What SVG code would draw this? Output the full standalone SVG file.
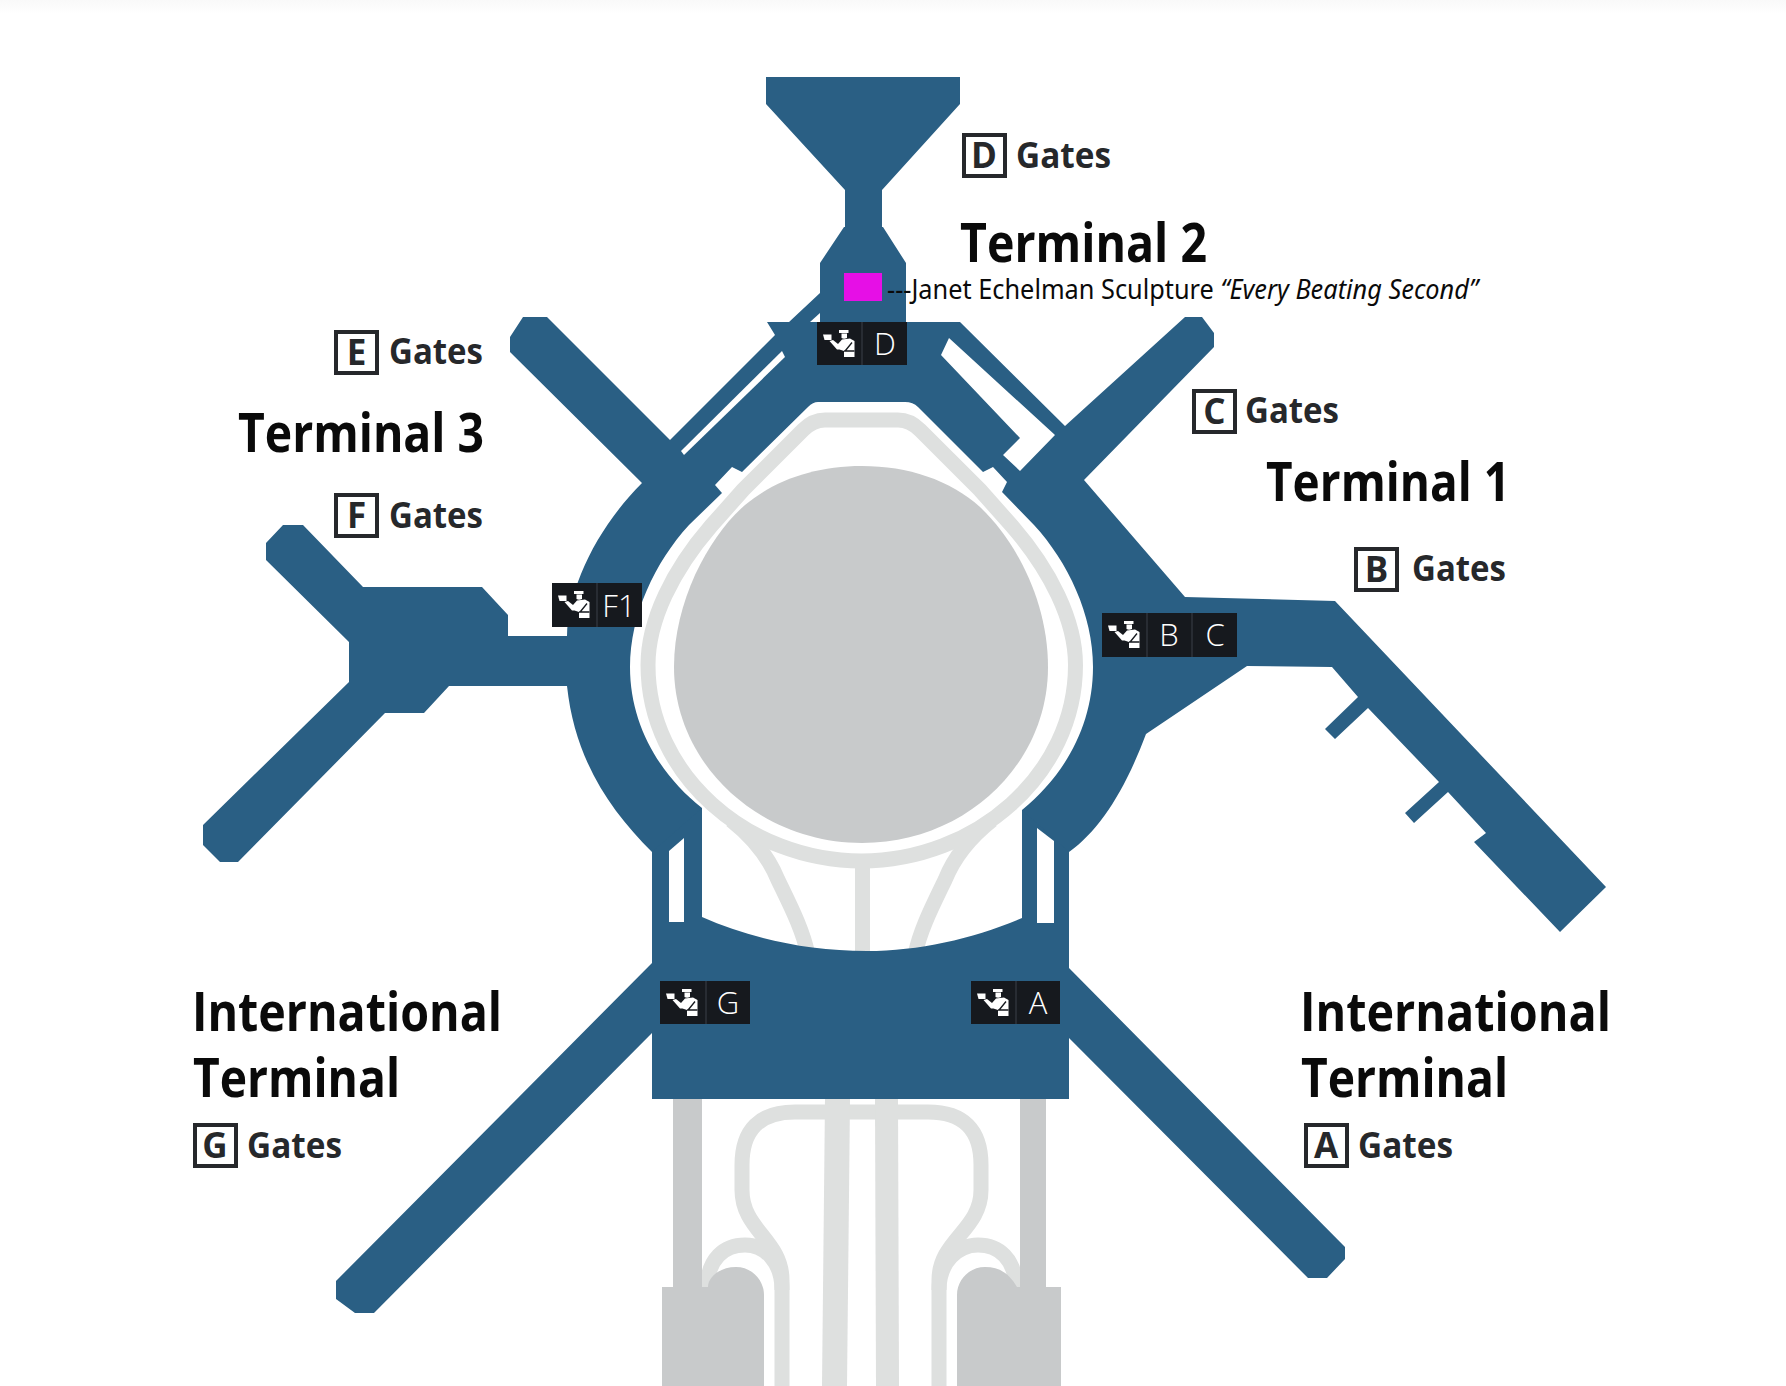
<svg xmlns="http://www.w3.org/2000/svg" xmlns:xlink="http://www.w3.org/1999/xlink" width="1786" height="1386" viewBox="0 0 1786 1386">
<style>
.blue{fill:#2a5f84}
.hole{fill:#fff}
.lg{fill:none;stroke:#dee0df;stroke-width:15}
.lgf{fill:#dee0df}
.dg{fill:#c8cacb}
.tag{fill:#16191e}
.div{stroke:#3a4148;stroke-width:1}
.tagt{font-family:"Open Sans","Noto Sans",sans-serif;font-weight:300;font-size:31px;fill:#fff;text-anchor:middle}
.term{font-family:"Open Sans","Noto Sans",sans-serif;font-weight:700;font-size:54px;fill:#0a0a0a}
.gates{font-family:"Open Sans","Noto Sans",sans-serif;font-weight:700;font-size:35px;fill:#26282b}
.box{fill:#fff;stroke:#26282b;stroke-width:4}
.boxt{font-family:"Open Sans","Noto Sans",sans-serif;font-weight:700;font-size:35px;fill:#26282b;text-anchor:middle}
.note{font-family:"Noto Sans","Open Sans",sans-serif;font-size:27px;fill:#0a0a0a}
</style>
<defs>
<linearGradient id="topfade" x1="0" y1="0" x2="0" y2="1"><stop offset="0" stop-color="#f9f9f9"/><stop offset="1" stop-color="#ffffff"/></linearGradient>
<g id="officer">
<path fill="#fff" d="M18,5H27.500V8H18Z"/>
<path fill="#fff" d="M20.500,8.500H26V13Q23,14.500 20.500,13Z"/>
<path fill="#fff" d="M2,9.500H10.500V15H3.500Z"/>
<path fill="#fff" d="M21,14.500L29,13.500L33.500,16V32H23V26L18.500,24.500H16L8.500,16L12,15L17,19Z"/>
<path fill="none" stroke="#16191e" stroke-width="1.300" d="M31,17.500L24.500,25.500M23,26H33.500"/>
</g>
</defs>
<rect width="1786" height="1386" fill="#fff"/>
<rect width="1786" height="14" fill="url(#topfade)"/>

<g id="airfield-structure">
<path class="blue" d="M766,77L960,77L960,104L882,190L882,227L883,227L906,263L906,322L960,322L1065,426L1185,317L1202,317L1214,333L1214,347L1084,480L1185,597L1335,601L1606,887L1560,932L1474,842L1486,833L1448,792L1414,823L1405,813L1439,782L1368,708L1335,739L1325,729L1358,697L1332,667L1247,666L1146,734C1125,790 1100,830 1069,852L1069,968L1345,1247L1345,1259L1327,1278L1308,1278L1069,1038L1069,1099L652,1099L652,1033L374,1313L355,1313L336,1299L336,1281L652,963L652,852C610,810 575,760 567,686L449,686L424,713L385,713L238,862L220,862L203,845L203,825L349,682L349,642L266,560L266,543L283,525L303,525L363,587L482,587L508,615L508,636L567,636C568,590 595,530 642,483L510,352L510,337L523,317L547,317L670,440L775,335L767,322L789,322L820,293L820,263L844,227L845,227L845,190L766,104Z"/>
<path class="hole" d="M820,313L820,322L810,322Z"/>
<path class="hole" d="M782,351L785,357L684,455L681,451Z"/>
<path class="hole" d="M949,338L1055,435L1020,471L1003,455L1020,438L941,355Z"/>
<path class="hole" d="M818,402L905,402Q913,402 918,407L983,472L993,467L1007,482L1002,492L1034,525C1068,562 1093,615 1093,667C1093,725 1065,775 1022,810L1022,960L702,960L702,808C660,775 630,725 630,667C630,615 655,562 689,525L722,493L715,485L732,467L742,472L808,407Q813,402 818,402Z"/>
</g>

<g id="roads">
<path class="lg" d="M731,820C760,843 772,865 778,880C790,905 803,930 808,955"/>
<path class="lg" d="M992,820C963,843 951,865 945,880C933,905 920,930 915,955"/>
<path class="lg" d="M825,420L898,420Q910,420 920,430L980,490L1012,526C1050,570 1075.500,620 1075.500,665C1075.500,775 975,861 861.500,861C748,861 648,775 648,665C648,620 673,570 711,526L743,490L803,430Q813,420 825,420Z"/>
<rect class="lgf" x="855" y="860" width="15" height="100"/>
<path class="lg" d="M782,1386L782,1280C782,1240 742,1230 742,1190L742,1165Q742,1112 795,1112L928,1112Q981,1112 981,1165L981,1190C981,1230 939,1240 939,1280L939,1386"/>
<path class="lg" d="M707,1290C707,1258 725,1245 745,1245C765,1245 782,1262 782,1290"/>
<path class="lg" d="M1016,1290C1016,1258 998,1245 978,1245C958,1245 939,1262 939,1290"/>
<path class="lgf" d="M825,1099H850L847,1386H822Z"/>
<path class="lgf" d="M875,1099H898L899,1386H876Z"/>
<path class="dg" d="M673,1099H702V1287H708C708,1277 720,1267 736,1267C752,1267 764,1280 764,1295V1386H662V1287H673Z"/>
<path class="dg" d="M1020,1099H1046V1287H1061V1386H957V1295C957,1280 969,1267 985,1267C1001,1267 1010,1275 1017,1287H1020Z"/>
<path class="dg" d="M862,466C815,466 775,480 745,505C710,535 674,600 674,667C674,765 760,843 862,843C965,843 1048,765 1048,667C1048,600 1015,540 980,507C950,480 908,466 862,466Z"/>
</g>

<g id="international-terminal">
<path class="blue" d="M652,852L702,808L702,917C750,938 805,951 867,951C920,951 975,938 1022,918L1022,810L1069,852L1069,1099L652,1099Z"/>
<path class="hole" d="M669,851L684,838V922H669Z"/>
<path class="hole" d="M1037,828L1054,841V923H1037Z"/>
</g>

<rect id="sculpture-marker" x="844" y="273" width="38" height="28" fill="#e60fe6"/>
<text id="sculpture-note" class="note" x="887" y="299" textLength="591" lengthAdjust="spacingAndGlyphs">---Janet Echelman Sculpture <tspan font-style="italic">“Every Beating Second”</tspan></text>

<g id="checkpoint-d"><rect class="tag" x="817" y="322" width="90" height="43"/><line class="div" x1="862" y1="322" x2="862" y2="365"/><use xlink:href="#officer" href="#officer" x="821" y="325"/><text class="tagt" x="885" y="355">D</text></g>
<g id="checkpoint-f1"><rect class="tag" x="552" y="583" width="90" height="44"/><line class="div" x1="597" y1="583" x2="597" y2="627"/><use xlink:href="#officer" href="#officer" x="556" y="586"/><text class="tagt" x="619" y="617">F1</text></g>
<g id="checkpoint-bc"><rect class="tag" x="1102" y="613" width="135" height="44"/><line class="div" x1="1147" y1="613" x2="1147" y2="657"/><line class="div" x1="1192" y1="613" x2="1192" y2="657"/><use xlink:href="#officer" href="#officer" x="1106" y="616"/><text class="tagt" x="1169" y="646">B</text><text class="tagt" x="1215" y="646">C</text></g>
<g id="checkpoint-g"><rect class="tag" x="660" y="981" width="90" height="43"/><line class="div" x1="706" y1="981" x2="706" y2="1024"/><use xlink:href="#officer" href="#officer" x="664" y="984"/><text class="tagt" x="728" y="1014">G</text></g>
<g id="checkpoint-a"><rect class="tag" x="971" y="981" width="89" height="43"/><line class="div" x1="1016" y1="981" x2="1016" y2="1024"/><use xlink:href="#officer" href="#officer" x="975" y="984"/><text class="tagt" x="1038" y="1014">A</text></g>

<g id="terminal-2"><text class="term" x="960" y="262" textLength="247" lengthAdjust="spacingAndGlyphs">Terminal 2</text></g>
<g id="terminal-3"><text class="term" x="238" y="452" textLength="246" lengthAdjust="spacingAndGlyphs">Terminal 3</text></g>
<g id="terminal-1"><text class="term" x="1266" y="501" textLength="244" lengthAdjust="spacingAndGlyphs">Terminal 1</text></g>
<g id="international-left"><text class="term" x="192" y="1031" textLength="310" lengthAdjust="spacingAndGlyphs">International</text><text class="term" x="193" y="1097" textLength="207" lengthAdjust="spacingAndGlyphs">Terminal</text></g>
<g id="international-right"><text class="term" x="1300" y="1031" textLength="311" lengthAdjust="spacingAndGlyphs">International</text><text class="term" x="1301" y="1097" textLength="207" lengthAdjust="spacingAndGlyphs">Terminal</text></g>

<g id="gates-d"><rect class="box" x="964" y="135" width="41" height="41"/><text class="boxt" x="984" y="168">D</text><text class="gates" x="1016" y="168" textLength="95" lengthAdjust="spacingAndGlyphs">Gates</text></g>
<g id="gates-e"><rect class="box" x="336" y="332" width="41" height="41"/><text class="boxt" x="356.500" y="365">E</text><text class="gates" x="389" y="364" textLength="94" lengthAdjust="spacingAndGlyphs">Gates</text></g>
<g id="gates-f"><rect class="box" x="336" y="495" width="41" height="41"/><text class="boxt" x="356.500" y="528">F</text><text class="gates" x="389" y="528" textLength="94" lengthAdjust="spacingAndGlyphs">Gates</text></g>
<g id="gates-c"><rect class="box" x="1194" y="391" width="41" height="41"/><text class="boxt" x="1214.500" y="424">C</text><text class="gates" x="1245" y="423" textLength="94" lengthAdjust="spacingAndGlyphs">Gates</text></g>
<g id="gates-b"><rect class="box" x="1356" y="549" width="41" height="41"/><text class="boxt" x="1376.500" y="582">B</text><text class="gates" x="1412" y="581" textLength="94" lengthAdjust="spacingAndGlyphs">Gates</text></g>
<g id="gates-g"><rect class="box" x="195" y="1125" width="41" height="41"/><text class="boxt" x="215" y="1158">G</text><text class="gates" x="247" y="1158" textLength="95" lengthAdjust="spacingAndGlyphs">Gates</text></g>
<g id="gates-a"><rect class="box" x="1306" y="1125" width="41" height="41"/><text class="boxt" x="1326" y="1158">A</text><text class="gates" x="1358" y="1158" textLength="95" lengthAdjust="spacingAndGlyphs">Gates</text></g>
</svg>
